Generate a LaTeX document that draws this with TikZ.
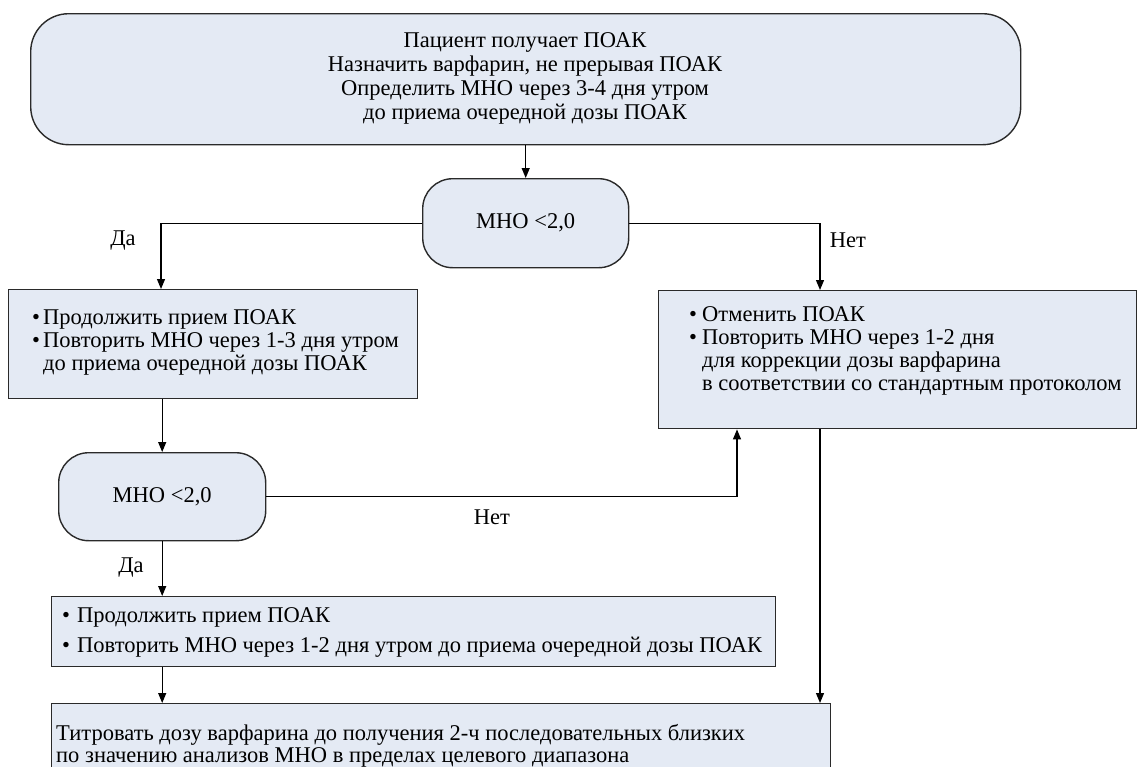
\documentclass[tikz,border=0pt]{standalone}
\usepackage{fontspec}
\setmainfont{Liberation Serif}
\usetikzlibrary{arrows.meta}
\definecolor{boxfill}{HTML}{E4EAF4}
\definecolor{boxline}{HTML}{2A2A2A}
\begin{document}
\begin{tikzpicture}[x=1pt,y=-1pt,
  txt/.style={font=\fontsize{22.5}{23}\selectfont, inner sep=0pt, text=black},
  card/.style={draw=boxline, fill=boxfill, line width=1.4pt, inner sep=0pt, anchor=north west},
  flow/.style={draw=black, line width=1.2pt, -{Triangle[length=10pt,width=8pt]}}]
\useasboundingbox (0,0) rectangle (1137,766);

% boxes
\node[card, rounded corners=38pt, minimum width=990pt, minimum height=131pt] (start) at (30,13) {};
\node[card, rounded corners=30pt, minimum width=206pt, minimum height=89pt] (q1) at (422,178) {};
\node[card, minimum width=409pt, minimum height=109pt] (cont1) at (8,289) {};
\node[card, minimum width=478pt, minimum height=138pt] (stop) at (658,290) {};
\node[card, rounded corners=30pt, minimum width=207pt, minimum height=88pt] (q2) at (58,452) {};
\node[card, minimum width=724pt, minimum height=70pt] (cont2) at (51,596) {};
\node[card, minimum width=779pt, minimum height=66pt] (titr) at (51,703) {};

% texts
\node[txt, align=center, font=\fontsize{22.5}{24}\selectfont] (tstart) at (525,78) {Пациент получает ПОАК\\Назначить варфарин, не прерывая ПОАК\\Определить МНО через 3-4 дня утром\\до приема очередной дозы ПОАК};
\node[txt] (tq1) at (q1.center) {МНО <2,0};
\node[txt] (tq2) at (q2.center) {МНО <2,0};
\node[txt, align=left, anchor=north west] (tcont1) at (32,309) {\makebox[11pt][l]{•}Продолжить прием ПОАК\\\makebox[11pt][l]{•}Повторить МНО через 1-3 дня утром\\\hspace*{11pt}до приема очередной дозы ПОАК};
\node[txt, align=left, anchor=north west] (tstop) at (689,306) {\makebox[13pt][l]{•}Отменить ПОАК\\\makebox[13pt][l]{•}Повторить МНО через 1-2 дня\\\hspace*{13pt}для коррекции дозы варфарина\\\hspace*{13pt}в соответствии со стандартным протоколом};
\node[txt, align=left, anchor=north west, font=\fontsize{22.5}{30}\selectfont] (tcont2) at (62,607) {\makebox[15pt][l]{•}Продолжить прием ПОАК\\\makebox[15pt][l]{•}Повторить МНО через 1-2 дня утром до приема очередной дозы ПОАК};
\node[txt, align=left, anchor=north west, font=\fontsize{22.5}{22}\selectfont] (ttitr) at (56,724) {Титровать дозу варфарина до получения 2-ч последовательных близких\\по значению анализов МНО в пределах целевого диапазона};

% labels
\node[txt] (yes1) at (123,241) {Да};
\node[txt] (no1) at (848,240) {Нет};
\node[txt] (no2) at (492,517) {Нет};
\node[txt] (yes2) at (131,568) {Да};

% connectors
\draw[flow] (start.south -| q1.north) -- (q1.north);
\draw[flow] (q1.west) -| (cont1.north -| 161,0);
\draw[flow] (q1.east) -| (stop.north -| 820,0);
\draw[flow] (cont1.south -| q2.north) -- (q2.north);
\draw[flow] (q2.east) -| (stop.south -| 737,0);
\draw[flow] (q2.south) -- (cont2.north -| q2.south);
\draw[flow] (cont2.south -| q2.south) -- (titr.north -| q2.south);
\draw[flow] (stop.south -| 820,0) -- (titr.north -| 820,0);
\end{tikzpicture}
\end{document}
